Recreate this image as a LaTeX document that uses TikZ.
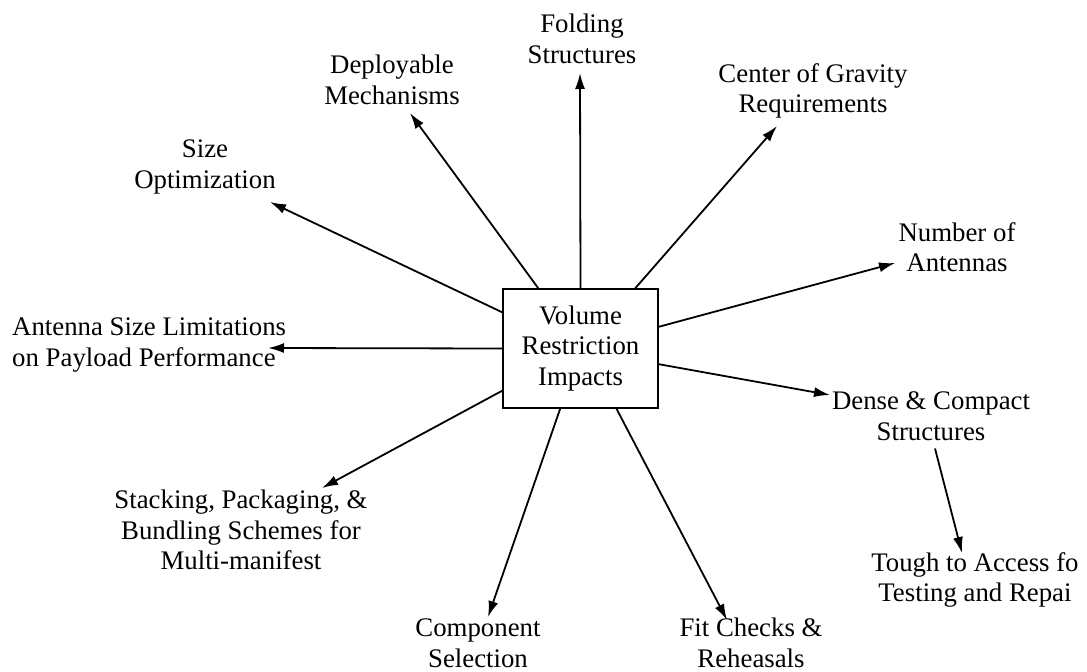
\documentclass[tikz,border=0pt]{standalone}
\usepackage{fontspec}
\setmainfont{Liberation Serif}
\usetikzlibrary{arrows.meta,calc}
\begin{document}
\begin{tikzpicture}[x=1pt,y=-1pt,
  every node/.style={font=\fontsize{26.8}{30.5}\selectfont},
  lbl/.style={align=center,inner sep=0pt},
  hub/.style={draw,line width=1.8pt,minimum width=155pt,minimum height=119pt,inner sep=0pt,align=center},
  conn/.style={line width=1.8pt,-{Latex[length=16pt,width=10pt]}}]
\useasboundingbox (0,0) rectangle (1087,672);

% central box
\node[hub] (hub) at (580.5,348.5) {Volume\\Restriction\\Impacts};

% surrounding labels
\node[lbl] (fold)  at (582,39)  {Folding\\Structures};
\node[lbl] (depl)  at (392,80)  {Deployable\\Mechanisms};
\node[lbl] (cog)   at (813,91)  {Center of Gravity\\Requirements};
\node[lbl] (size)  at (205,167) {Size\\Optimization};
\node[lbl] (num)   at (957,247) {Number of\\Antennas};
\node[lbl,align=left,anchor=west] (ant) at (12,345) {Antenna Size Limitations\\on Payload Performance};
\node[lbl] (dense) at (931,416) {Dense \& Compact\\Structures};
\node[lbl] (tough) at (975,580) {Tough to Access fo\\Testing and Repai};
\node[lbl] (stack) at (241,530) {Stacking, Packaging, \&\\Bundling Schemes for\\Multi-manifest};
\node[lbl] (comp)  at (478,643) {Component\\Selection};
\node[lbl] (fit)   at (751,643) {Fit Checks \&\\Reheasals};

% arrow tips next to the labels
\coordinate (tfold)  at (580,73);
\coordinate (tdepl)  at (410,113);
\coordinate (tcog)   at (777,126);
\coordinate (tsize)  at (270,202);
\coordinate (tnum)   at (895,263);
\coordinate (tant)   at (268,348);
\coordinate (tdense) at (830,395);
\coordinate (ttough) at (962,553);
\coordinate (tstack) at (322,488);
\coordinate (tcomp)  at (488,617);
\coordinate (tfit)   at (727,620);

% arrows leaving the box
\draw[conn] (hub.north) -- (tfold);
\draw[conn] ($(hub.north west)!0.23!(hub.north east)$) -- (tdepl);
\draw[conn] ($(hub.north west)!0.85!(hub.north east)$) -- (tcog);
\draw[conn] ($(hub.north west)!0.20!(hub.south west)$) -- (tsize);
\draw[conn] (hub.west) -- (tant);
\draw[conn] ($(hub.north west)!0.85!(hub.south west)$) -- (tstack);
\draw[conn] ($(hub.north east)!0.32!(hub.south east)$) -- (tnum);
\draw[conn] ($(hub.north east)!0.63!(hub.south east)$) -- (tdense);
\draw[conn] ($(hub.south west)!0.37!(hub.south east)$) -- (tcomp);
\draw[conn] ($(hub.south west)!0.73!(hub.south east)$) -- (tfit);
\draw[conn] ($(dense.south)+(4,8)$) -- (ttough);
\end{tikzpicture}
\end{document}
